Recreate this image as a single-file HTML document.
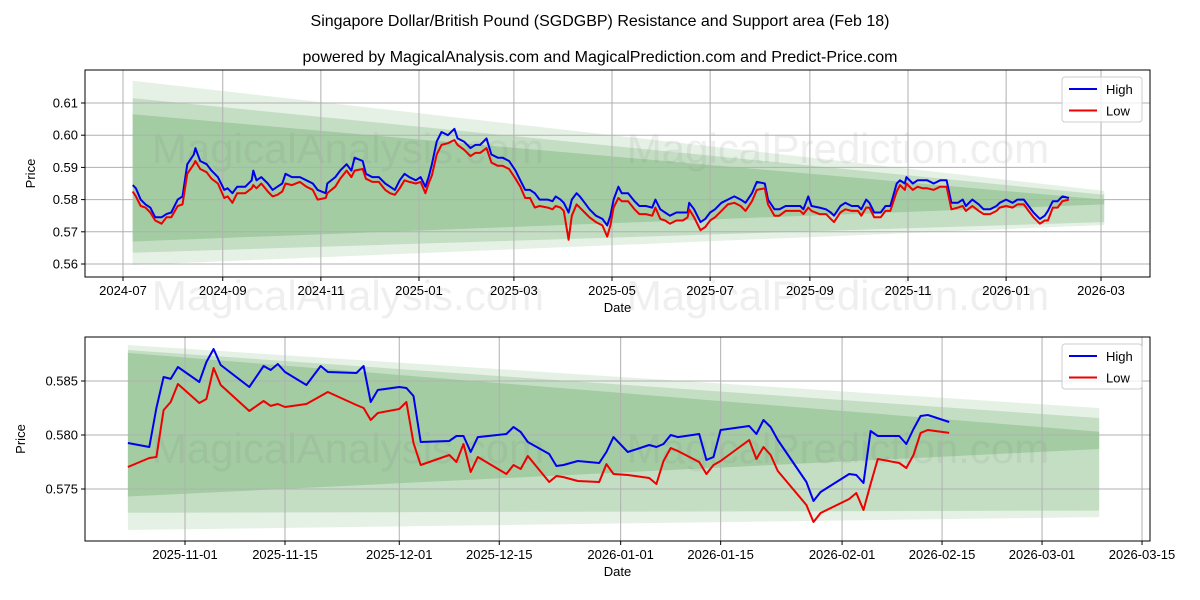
<!DOCTYPE html>
<html><head><meta charset="utf-8"><style>
body{margin:0;background:#fff}
svg{display:block;font-family:"Liberation Sans","DejaVu Sans",sans-serif}
</style></head><body>
<svg id="c" width="1200" height="600" viewBox="0 0 1200 600">
<text x="600" y="26" text-anchor="middle" font-size="16">Singapore Dollar/British Pound (SGDGBP) Resistance and Support area (Feb 18)</text>
<text x="600" y="62" text-anchor="middle" font-size="16">powered by MagicalAnalysis.com and MagicalPrediction.com and Predict-Price.com</text>
</svg>
<script>
// ---- top panel data (days since 2024-07-01) ----
const topDays=[6,8,11,14,17,20,24,27,30,34,37,40,44,45,48,52,55,59,63,65,68,71,76,80,81,83,86,90,93,96,99,101,105,110,114,118,121,126,127,132,135,139,142,144,149,151,155,159,163,166,169,172,175,178,182,185,188,190,192,195,198,202,206,208,212,216,219,222,226,229,233,236,240,244,247,250,253,256,259,264,267,269,272,274,277,279,282,284,287,290,294,298,301,303,305,308,310,314,318,321,325,329,331,334,337,340,344,348,351,352,355,359,362,365,368,372,376,380,384,387,391,394,399,401,405,408,412,415,418,421,423,426,428,433,437,440,442,446,449,453,457,459,462,464,467,471,474,477,481,483,486,487,491,494,497,500,504,508,512,515,519,522,524,528,532,535,539,543,545,549,553,556,560,563,566,570,573,575,578,581,584,588];
const topHigh=[0.5845,0.5835,0.580,0.5785,0.5775,0.5745,0.5745,0.5755,0.576,0.580,0.581,0.591,0.594,0.596,0.592,0.591,0.589,0.587,0.583,0.5835,0.582,0.584,0.584,0.586,0.589,0.586,0.587,0.585,0.583,0.584,0.585,0.588,0.587,0.587,0.586,0.585,0.583,0.582,0.585,0.587,0.589,0.591,0.589,0.593,0.592,0.588,0.587,0.587,0.585,0.584,0.583,0.586,0.588,0.587,0.586,0.587,0.584,0.587,0.591,0.598,0.601,0.600,0.602,0.599,0.598,0.596,0.597,0.597,0.599,0.594,0.593,0.593,0.592,0.589,0.586,0.583,0.583,0.582,0.580,0.580,0.5795,0.581,0.580,0.579,0.576,0.580,0.582,0.581,0.579,0.577,0.575,0.574,0.572,0.575,0.580,0.584,0.582,0.582,0.5795,0.578,0.578,0.5775,0.580,0.577,0.576,0.575,0.576,0.576,0.576,0.579,0.577,0.573,0.574,0.576,0.577,0.579,0.580,0.581,0.580,0.579,0.582,0.5855,0.585,0.580,0.577,0.577,0.578,0.578,0.578,0.578,0.577,0.581,0.578,0.5775,0.577,0.576,0.575,0.578,0.579,0.578,0.578,0.577,0.580,0.579,0.576,0.576,0.578,0.578,0.585,0.586,0.585,0.587,0.585,0.586,0.586,0.586,0.585,0.586,0.586,0.579,0.579,0.580,0.578,0.580,0.5785,0.577,0.577,0.578,0.579,0.580,0.579,0.580,0.580,0.578,0.576,0.574,0.575,0.5765,0.5795,0.5795,0.581,0.5805];
const topLow=[0.5825,0.581,0.578,0.5775,0.576,0.5735,0.5725,0.5745,0.5745,0.578,0.5785,0.588,0.591,0.592,0.5895,0.5885,0.5865,0.585,0.5805,0.581,0.579,0.582,0.582,0.5835,0.5845,0.5835,0.585,0.5825,0.581,0.5815,0.5825,0.585,0.5845,0.5855,0.584,0.583,0.580,0.5805,0.582,0.584,0.5865,0.589,0.587,0.589,0.5895,0.5865,0.5855,0.5855,0.583,0.582,0.5815,0.5835,0.586,0.5855,0.585,0.5855,0.582,0.585,0.5875,0.594,0.597,0.5975,0.5985,0.597,0.5955,0.5935,0.5945,0.5945,0.596,0.5915,0.5905,0.5905,0.5895,0.5865,0.584,0.5805,0.5805,0.5775,0.578,0.5775,0.577,0.578,0.5775,0.5765,0.5675,0.575,0.5785,0.5775,0.576,0.5745,0.573,0.572,0.5685,0.572,0.5775,0.5805,0.5795,0.5795,0.577,0.5755,0.5755,0.575,0.5775,0.574,0.5735,0.5725,0.5735,0.5735,0.5745,0.577,0.5745,0.5705,0.5715,0.5735,0.5745,0.5765,0.5785,0.579,0.578,0.5765,0.5795,0.583,0.5835,0.5785,0.575,0.575,0.5765,0.5765,0.5765,0.5765,0.5755,0.5775,0.5765,0.5755,0.5755,0.574,0.573,0.576,0.577,0.5765,0.5765,0.575,0.5775,0.5775,0.5745,0.5745,0.5765,0.5765,0.5825,0.5845,0.583,0.585,0.583,0.584,0.5835,0.5835,0.583,0.584,0.584,0.577,0.5775,0.578,0.5765,0.578,0.5765,0.5755,0.5755,0.5765,0.5775,0.578,0.5775,0.5785,0.5785,0.5765,0.5745,0.5725,0.5735,0.5735,0.5775,0.5775,0.5795,0.580];
const topXTickDays=[0,62,123,184,243,304,365,427,488,549,608];
const topXTickLabels=["2024-07","2024-09","2024-11","2025-01","2025-03","2025-05","2025-07","2025-09","2025-11","2026-01","2026-03"];
const topYTicks=[0.56,0.57,0.58,0.59,0.60,0.61];
const topBandDays=[6,610];
const topBandsStartTop=[0.6169,0.6115,0.6065];
const topBandsStartBot=[0.5597,0.5635,0.5670];
const topBandsEndTop=[0.5827,0.5815,0.5800];
const topBandsEndBot=[0.5721,0.5730,0.5785];

// ---- bottom panel data (days since 2025-11-01) ----
const botDays=[-8,-5,-4,-3,-2,-1,2,3,4,5,9,11,12,13,14,17,19,20,24,25,26,27,30,31,32,33,37,38,39,40,41,45,46,47,48,51,52,53,55,58,59,60,62,65,66,67,68,69,72,73,74,75,79,80,81,82,83,87,88,89,93,94,95,96,97,100,101,102,103,104,107];
const botHigh=[0.57926,0.57889,0.5825,0.58537,0.58519,0.5863,0.58491,0.58676,0.58796,0.58648,0.58444,0.58639,0.58602,0.58657,0.58583,0.58463,0.58639,0.58583,0.58574,0.58639,0.58306,0.58417,0.58444,0.58435,0.58361,0.57935,0.57944,0.57991,0.57991,0.57843,0.57981,0.58009,0.58074,0.58028,0.57935,0.57824,0.57713,0.57722,0.57759,0.57741,0.57843,0.57981,0.57843,0.57907,0.57889,0.57917,0.58,0.57981,0.58009,0.57769,0.57796,0.58046,0.58083,0.58009,0.58139,0.58074,0.57954,0.57565,0.57389,0.57472,0.57639,0.5763,0.57556,0.58037,0.57991,0.57991,0.57917,0.58056,0.58176,0.58185,0.5812];
const botLow=[0.57704,0.57787,0.57796,0.58231,0.58306,0.58472,0.58296,0.58333,0.5862,0.58463,0.58222,0.58315,0.58269,0.58287,0.58259,0.58287,0.58361,0.58398,0.58278,0.5825,0.58139,0.58204,0.58241,0.58306,0.57926,0.57722,0.57815,0.5775,0.57917,0.57657,0.57796,0.57639,0.57722,0.57685,0.57806,0.57565,0.5762,0.5761,0.57574,0.57565,0.57731,0.57639,0.5763,0.57602,0.57546,0.57759,0.5788,0.57852,0.5775,0.57639,0.57722,0.57759,0.57954,0.57778,0.57889,0.57815,0.57667,0.57352,0.57194,0.57278,0.57407,0.57463,0.57306,0.57546,0.57778,0.57741,0.57694,0.57815,0.58019,0.58046,0.58019];
const botXTickDays=[0,14,30,44,61,75,92,106,120,134];
const botXTickLabels=["2025-11-01","2025-11-15","2025-12-01","2025-12-15","2026-01-01","2026-01-15","2026-02-01","2026-02-15","2026-03-01","2026-03-15"];
const botYTicks=[0.575,0.580,0.585];
const botBandDays=[-8,128];
const botBandsStartTop=[0.58833,0.58787,0.5876];
const botBandsStartBot=[0.5712,0.5728,0.5743];
const botBandsEndTop=[0.5825,0.58157,0.5803];
const botBandsEndBot=[0.5724,0.5730,0.5787];

const NS="http://www.w3.org/2000/svg";
const svg=document.getElementById('c');
function mk(tag,attrs,parent){const e=document.createElementNS(NS,tag);for(const k in attrs)e.setAttribute(k,attrs[k]);(parent||svg).appendChild(e);return e;}

function panel(p){
  const g=mk('g',{});
  
  
  const X=d=>p.x0+(d-p.d0)*p.pxPerDay;
  const Y=v=>p.y0-(v-p.v0)*p.pxPerVal;
  // bands
  const bandFill=['rgba(46,139,46,0.12)','rgba(46,139,46,0.18)','rgba(46,139,46,0.22)'];
  for(let i=0;i<3;i++){
    const a=X(p.bandDays[0]),b=X(p.bandDays[1]);
    const poly=mk('polygon',{points:`${a},${Y(p.bst[i])} ${b},${Y(p.bet[i])} ${b},${Y(p.beb[i])} ${a},${Y(p.bsb[i])}`,fill:bandFill[i]},g);
    
    
  }
  // watermarks
  p.wm.forEach(w=>{const t=mk('text',{x:w[0],y:w[1],'font-size':42,fill:'rgba(120,120,120,0.12)','text-anchor':'middle'},g);t.textContent=w[2];
    
    });
  // grid + ticks
  p.yTicks.forEach(v=>{const y=Y(v);
    mk('line',{x1:p.L,x2:p.R,y1:y,y2:y,stroke:'#b0b0b0','stroke-width':1},g);
    mk('line',{x1:p.L-4,x2:p.L,y1:y,y2:y,stroke:'#000'},g);
    const t=mk('text',{x:p.L-7,y:y+4.5,'font-size':13,'text-anchor':'end'},g);t.textContent=v.toFixed(p.yDec);
    
    });
  p.xTicks.forEach((d,i)=>{const x=X(d);
    mk('line',{x1:x,x2:x,y1:p.T,y2:p.B,stroke:'#b0b0b0','stroke-width':1},g);
    mk('line',{x1:x,x2:x,y1:p.B,y2:p.B+4,stroke:'#000'},g);
    const t=mk('text',{x:x,y:p.B+18,'font-size':13,'text-anchor':'middle'},g);t.textContent=p.xLabels[i];
    
    });
  // series
  [[p.high,'#0000ee','high-line'],[p.low,'#ee0000','low-line']].forEach(s=>{
    const pts=p.days.map((d,i)=>X(d).toFixed(1)+','+Y(s[0][i]).toFixed(1)).join(' ');
    const l=mk('polyline',{points:pts,fill:'none',stroke:s[1],'stroke-width':2,'stroke-linejoin':'round'},g);
    
    
  });
  // frame
  mk('rect',{x:p.L,y:p.T,width:p.R-p.L,height:p.B-p.T,fill:'none',stroke:'#000','stroke-width':1},g);
  // axis titles
  const xt=mk('text',{x:(p.L+p.R)/2,y:p.B+35,'font-size':13,'text-anchor':'middle'},g);xt.textContent='Date';
  
  
  const yc=(p.T+p.B)/2;
  const yt=mk('text',{x:p.yTitleX,y:yc,'font-size':13,'text-anchor':'middle',transform:`rotate(-90 ${p.yTitleX} ${yc})`},g);yt.textContent='Price';
  
  
  // legend
  const lg=mk('g',{},g);
  
  
  const lx=p.R-88,ly=p.T+7;
  mk('rect',{x:lx,y:ly,width:80,height:45,rx:3,fill:'rgba(255,255,255,0.8)',stroke:'#ccc'},lg);
  [['High','#0000ee'],['Low','#ee0000']].forEach((e,i)=>{
    const yy=ly+12+i*21.5;
    mk('line',{x1:lx+7,x2:lx+35,y1:yy,y2:yy,stroke:e[1],'stroke-width':2},lg);
    const t=mk('text',{x:lx+44,y:yy+5,'font-size':13},lg);t.textContent=e[0];
    
    
  });
}

panel({name:'top-panel',L:85,R:1150,T:70,B:277,x0:123,d0:0,pxPerDay:1.6086,y0:103,v0:0.61,pxPerVal:3220,
  days:topDays,high:topHigh,low:topLow,xTicks:topXTickDays,xLabels:topXTickLabels,yTicks:topYTicks,yDec:2,
  bandDays:topBandDays,bst:topBandsStartTop,bsb:topBandsStartBot,bet:topBandsEndTop,beb:topBandsEndBot,yTitleX:35,
  wm:[[348,163,'MagicalAnalysis.com'],[838,163,'MagicalPrediction.com'],[348,310,'MagicalAnalysis.com'],[838,310,'MagicalPrediction.com']]});
panel({name:'bottom-panel',L:85,R:1150,T:337,B:541,x0:185,d0:0,pxPerDay:7.142,y0:381,v0:0.585,pxPerVal:10800,
  days:botDays,high:botHigh,low:botLow,xTicks:botXTickDays,xLabels:botXTickLabels,yTicks:botYTicks,yDec:3,
  bandDays:botBandDays,bst:botBandsStartTop,bsb:botBandsStartBot,bet:botBandsEndTop,beb:botBandsEndBot,yTitleX:25,
  wm:[[348,463,'MagicalAnalysis.com'],[838,463,'MagicalPrediction.com']]});
</script>
</body></html>
